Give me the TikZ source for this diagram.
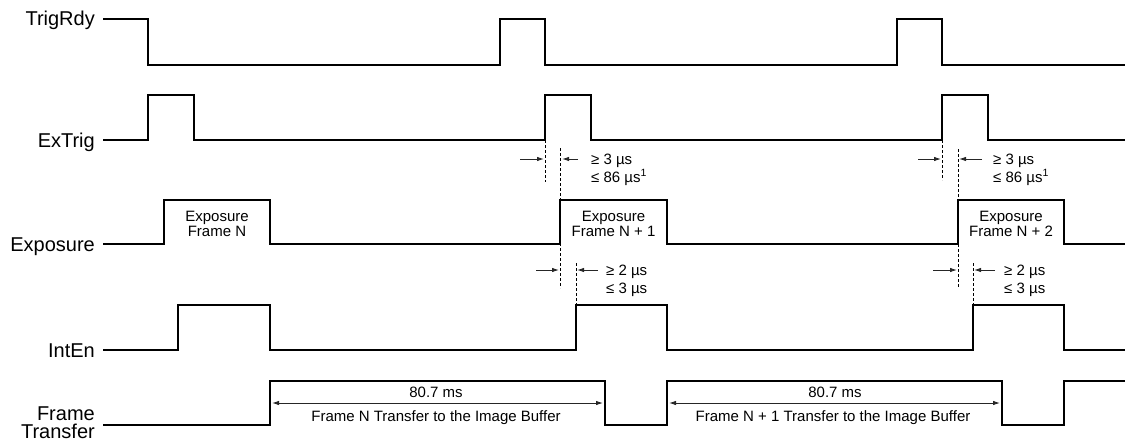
\documentclass[tikz,border=0pt]{standalone}
\usepackage{fontspec}
\setmainfont{Liberation Sans}
\usetikzlibrary{arrows.meta}
\begin{document}
\begin{tikzpicture}[x=1pt,y=-1pt,
  sig/.style={line width=2pt,line join=miter,line cap=butt},
  dashln/.style={line width=0.8pt,dash pattern=on 3pt off 2pt},
  dim/.style={line width=0.9pt,draw=black!85,-{Latex[length=7pt,width=4.5pt]}},
  dimboth/.style={line width=0.9pt,draw=black!85,{Latex[length=7pt,width=4.5pt]}-{Latex[length=7pt,width=4.5pt]}},
  lbl/.style={inner sep=0pt,anchor=base east,font=\fontsize{20}{23}\selectfont},
  small/.style={inner sep=0pt,anchor=base west,font=\fontsize{15}{18}\selectfont},
  smallc/.style={inner sep=0pt,anchor=base,font=\fontsize{15}{18}\selectfont},
  expo/.style={inner sep=0pt,align=center,font=\fontsize{15}{15}\selectfont}]
\useasboundingbox (0,0) rectangle (1125,444);

% labels
\node[lbl] (lTrig) at (95,26) {TrigRdy};
\node[lbl] (lEx) at (95,147) {ExTrig};
\node[lbl] (lExp) at (95,251) {Exposure};
\node[lbl] (lInt) at (95,357) {IntEn};
\node[lbl] (lFT1) at (95,420) {Frame};
\node[lbl] (lFT2) at (95,438.5) {Transfer};

% TrigRdy
\draw[sig] (103,19) -- (148,19) -- (148,65) -- (500,65) -- (500,19) -- (545,19) -- (545,65)
  -- (897,65) -- (897,19) -- (942,19) -- (942,65) -- (1125,65);
% ExTrig
\draw[sig] (103,140) -- (148,140) -- (148,95) -- (194,95) -- (194,140) -- (545,140) -- (545,95)
  -- (591,95) -- (591,140) -- (942,140) -- (942,95) -- (988,95) -- (988,140) -- (1125,140);
% Exposure
\draw[sig] (103,244) -- (164,244) -- (164,200) -- (270,200) -- (270,244) -- (560,244) -- (560,200)
  -- (667,200) -- (667,244) -- (958,244) -- (958,200) -- (1064,200) -- (1064,244) -- (1125,244);
% IntEn
\draw[sig] (103,350) -- (178,350) -- (178,305) -- (270,305) -- (270,350) -- (576,350) -- (576,305)
  -- (667,305) -- (667,350) -- (973,350) -- (973,305) -- (1064,305) -- (1064,350) -- (1125,350);
% Frame Transfer
\draw[sig] (103,425) -- (270,425) -- (270,381) -- (605,381) -- (605,425) -- (667,425) -- (667,381)
  -- (1002,381) -- (1002,425) -- (1064,425) -- (1064,381) -- (1125,381);

% exposure texts
\node[expo] (e1) at (217,223.5) {Exposure\\Frame N};
\node[expo] (e2) at (613.5,223.5) {Exposure\\Frame N + 1};
\node[expo] (e3) at (1011,223.5) {Exposure\\Frame N + 2};

% dashed timing lines
\draw[dashln] (545.5,140) -- (545.5,182);
\draw[dashln] (560.5,148) -- (560.5,288);
\draw[dashln] (576,263) -- (576,305);
\draw[dashln] (942.5,140) -- (942.5,180);
\draw[dashln] (958,149) -- (958,288);
\draw[dashln] (973,263) -- (973,305);

% timing arrows
\coordinate (a1s) at (520,159); \coordinate (a1e) at (544,159);
\coordinate (a2s) at (578,159); \coordinate (a2e) at (562,159);
\draw[dim] (a1s) -- (a1e);
\draw[dim] (a2s) -- (a2e);
\coordinate (b1s) at (536,270); \coordinate (b1e) at (559,270);
\coordinate (b2s) at (598,270); \coordinate (b2e) at (577,270);
\draw[dim] (b1s) -- (b1e);
\draw[dim] (b2s) -- (b2e);
\coordinate (c1s) at (918,159); \coordinate (c1e) at (941,159);
\coordinate (c2s) at (982,159); \coordinate (c2e) at (959,159);
\draw[dim] (c1s) -- (c1e);
\draw[dim] (c2s) -- (c2e);
\coordinate (d1s) at (933,270); \coordinate (d1e) at (957,270);
\coordinate (d2s) at (995,270); \coordinate (d2e) at (974,270);
\draw[dim] (d1s) -- (d1e);
\draw[dim] (d2s) -- (d2e);

% timing texts
\node[small] (t1a) at (591,164) {≥ 3 µs};
\node[small] (t1b) at (591,182) {≤ 86 µs\textsuperscript{1}};
\node[small] (t2a) at (606,275) {≥ 2 µs};
\node[small] (t2b) at (606,293) {≤ 3 µs};
\node[small] (t3a) at (993,164) {≥ 3 µs};
\node[small] (t3b) at (993,182) {≤ 86 µs\textsuperscript{1}};
\node[small] (t4a) at (1004,275) {≥ 2 µs};
\node[small] (t4b) at (1004,293) {≤ 3 µs};

% frame transfer dimensions
\coordinate (f1s) at (272,403); \coordinate (f1e) at (603,403);
\coordinate (f2s) at (669,403); \coordinate (f2e) at (1000,403);
\draw[dimboth] (f1s) -- (f1e);
\draw[dimboth] (f2s) -- (f2e);
\node[smallc] (m1) at (436,397) {80.7 ms};
\node[smallc] (m1b) at (436,421.5) {Frame N Transfer to the Image Buffer};
\node[smallc] (m2) at (835,397) {80.7 ms};
\node[smallc] (m2b) at (833,421.5) {Frame N + 1 Transfer to the Image Buffer};
\end{tikzpicture}
\end{document}
